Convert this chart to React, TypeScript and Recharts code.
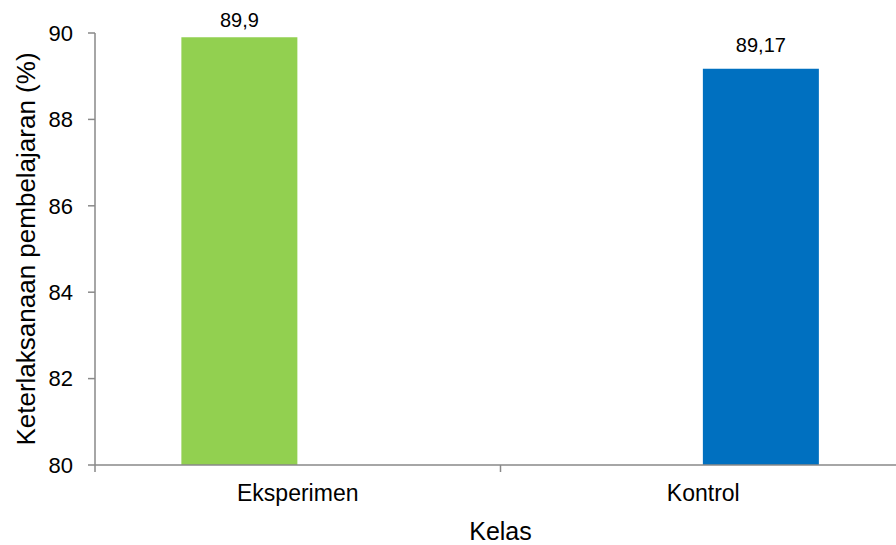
import React from "react";
import { BarChart, Bar, XAxis, YAxis, LabelList } from "recharts";

const categories = ["Eksperimen", "Kontrol"];
const eksperimenValues = [89.9, null];
const kontrolValues = [null, 89.17];
const yTicks = [80, 82, 84, 86, 88, 90];

const data = categories.map((kelas, i) => ({
    kelas,
    eksperimen: eksperimenValues[i],
    kontrol: kontrolValues[i],
}));

const FONT = "'Liberation Sans', Arial, sans-serif";
const AXIS = "#898989";

// category label at the centre, small tick marks at the band edges (Excel style)
const CatTick = (props: any) => {
    const { x, y, payload, index } = props;
    const half = payload && payload.offset ? payload.offset : 0;
    const last = index === categories.length - 1;
    return (
        <g>
            <line x1={x - half} y1={y} x2={x - half} y2={y + 7} stroke={AXIS} strokeWidth={1.5} />
            {last && <line x1={x + half} y1={y} x2={x + half} y2={y + 7} stroke={AXIS} strokeWidth={1.5} />}
            <text x={x} y={y + 20} dy="0.71em" textAnchor="middle" fontSize={23} fontFamily={FONT} fill="#000">
                {payload.value}
            </text>
        </g>
    );
};

const valueLabel = (lift: number) => (props: any) => {
    const { x, y, width, value } = props;
    if (value === null || value === undefined) return null;
    return (
        <text x={x + width / 2} y={y - lift} textAnchor="middle" fontSize={20} fontFamily={FONT} fill="#000">
            {String(value).replace(".", ",")}
        </text>
    );
};

const YTitle = (props: any) => {
    const { viewBox } = props;
    const cx = 26;
    const cy = viewBox.y + viewBox.height / 2;
    return (
        <text x={cx} y={cy} transform={`rotate(-90, ${cx}, ${cy})`} textAnchor="middle" dominantBaseline="central"
            fontSize={26} fontFamily={FONT} fill="#000">
            Keterlaksanaan pembelajaran (%)
        </text>
    );
};

const XTitle = (props: any) => {
    const { viewBox } = props;
    return (
        <text x={viewBox.x + viewBox.width / 2} y={viewBox.y + 75} textAnchor="middle" fontSize={25} fontFamily={FONT} fill="#000">
            Kelas
        </text>
    );
};

export default function App() {
    return (
        <div style={{ position: "absolute", left: 0, top: 0, width: 896, height: 545, overflow: "hidden", background: "#fff" }}>
            <BarChart
                width={906}
                height={545}
                data={data}
                margin={{ top: 33, right: 0, bottom: 0, left: 0 }}
                barCategoryGap="21.3%"
                barGap={0}
            >
                <XAxis
                    dataKey="kelas"
                    height={80}
                    tickLine={false}
                    tickSize={0}
                    tickMargin={0}
                    interval={0}
                    axisLine={{ stroke: AXIS, strokeWidth: 1.5 }}
                    tick={<CatTick />}
                    label={<XTitle />}
                />
                <YAxis
                    width={95}
                    domain={[80, 90]}
                    ticks={yTicks}
                    allowDataOverflow
                    tickSize={7}
                    tickMargin={15}
                    axisLine={{ stroke: AXIS, strokeWidth: 1.5 }}
                    tickLine={{ stroke: AXIS, strokeWidth: 1.5 }}
                    tick={{ fill: "#000", fontSize: 22, fontFamily: FONT }}
                    label={<YTitle />}
                />
                <Bar dataKey="eksperimen" fill="#92D050" isAnimationActive={false}>
                    <LabelList dataKey="eksperimen" content={valueLabel(10)} />
                </Bar>
                <Bar dataKey="kontrol" fill="#0070C0" isAnimationActive={false}>
                    <LabelList dataKey="kontrol" content={valueLabel(17)} />
                </Bar>
            </BarChart>
        </div>
    );
}
